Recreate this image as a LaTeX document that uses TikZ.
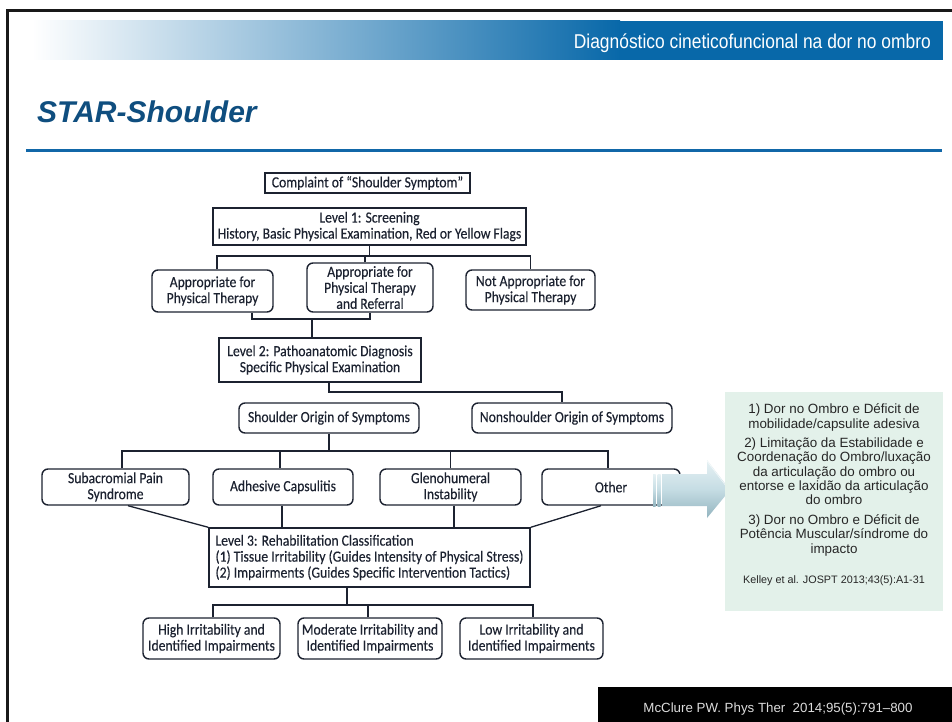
\documentclass[tikz,border=0pt]{standalone}
\usepackage{fontspec}
\setmainfont{Carlito}[FakeStretch=0.88, FakeBold=0.25]
\newfontfamily\arialfont{Liberation Sans}
\newfontfamily\narrowfont[FakeStretch=0.87]{Liberation Sans}
\definecolor{bandblue}{HTML}{0868A9}
\definecolor{titleblue}{HTML}{0F4E7F}
\definecolor{rulecol}{HTML}{1167A8}
\definecolor{ink}{HTML}{1C2230}
\definecolor{mint}{HTML}{E3F1EA}
\definecolor{arrowlight}{HTML}{E6F1F4}
\definecolor{arrowmid}{HTML}{C6DDE4}
\definecolor{arrowdark}{HTML}{93B4BF}
\definecolor{reftext}{HTML}{DCDCDC}
\tikzset{
  sqbox/.style={draw=ink, line width=1.4pt, fill=white, inner sep=2pt, align=center,
    text=ink, font=\fontsize{15.5}{16}\selectfont},
  rdbox/.style={sqbox, rounded corners=6pt},
  link/.style={draw=ink, line width=1.3pt},
  greenline/.style={anchor=base, inner sep=0pt, text=black!85, font=\arialfont\fontsize{13.4}{14.5}\selectfont},
}
\begin{document}
\begin{tikzpicture}[x=1pt,y=-1pt]
\useasboundingbox (0,0) rectangle (952,722);
\fill[white] (0,0) rectangle (952,722);

% slide frame
\draw[line width=2.5pt, black!90] (7.5,722) -- (7.5,10.5) -- (952,10.5);

% header band: solid blue with a fade-in on its left part
\fill[bandblue] (32,21) rectangle (943,60);
\shade[left color=white, right color=bandblue] (32,21) rectangle (620,60);
\node[anchor=base east, text=white, inner sep=0pt,
      font=\narrowfont\fontsize{20}{24}\selectfont] (hdr) at (931,49)
      {Diagnóstico cineticofuncional na dor no ombro};

% title and rule
\node[anchor=base west, text=titleblue, inner sep=0pt,
      font=\arialfont\bfseries\itshape\fontsize{30}{36}\selectfont] (ttl) at (37,123)
      {STAR-Shoulder};
\fill[rulecol] (26,149) rectangle (942,152);

% flow chart nodes
\node[sqbox, minimum width=205pt, minimum height=20pt] (cmp) at (367.5,183)
  {Complaint of “Shoulder Symptom”};
\node[sqbox, minimum width=313pt, minimum height=37pt] (l1) at (369.5,226.5)
  {Level 1: Screening\\History, Basic Physical Examination, Red or Yellow Flags};
\node[rdbox, minimum width=121pt, minimum height=42pt] (apt) at (212.5,291)
  {Appropriate for\\Physical Therapy};
\node[rdbox, minimum width=126pt, minimum height=49pt] (aptref) at (370,287.5)
  {Appropriate for\\Physical Therapy\\and Referral};
\node[rdbox, minimum width=129pt, minimum height=40pt] (notapt) at (530.5,290)
  {Not Appropriate for\\Physical Therapy};
\node[sqbox, minimum width=202pt, minimum height=44pt] (l2) at (320,360)
  {Level 2: Pathoanatomic Diagnosis\\Specific Physical Examination};
\node[rdbox, minimum width=180pt, minimum height=30pt] (sho) at (329,418)
  {Shoulder Origin of Symptoms};
\node[rdbox, minimum width=200pt, minimum height=30pt] (nonsho) at (572,418)
  {Nonshoulder Origin of Symptoms};
\node[rdbox, minimum width=147pt, minimum height=36pt] (sub) at (115.5,487)
  {Subacromial Pain\\Syndrome};
\node[rdbox, minimum width=140pt, minimum height=36pt] (adh) at (283,487)
  {Adhesive Capsulitis};
\node[rdbox, minimum width=141pt, minimum height=36pt] (gle) at (450.5,487)
  {Glenohumeral\\Instability};
\node[rdbox, minimum width=138pt, minimum height=36pt] (oth) at (611,487)
  {Other};
\node[sqbox, align=left, inner sep=4pt, minimum width=321pt, minimum height=59pt] (l3) at (369.5,557.5)
  {Level 3: Rehabilitation Classification\\
   (1) Tissue Irritability (Guides Intensity of Physical Stress)\\
   (2) Impairments (Guides Specific Intervention Tactics)};
\node[rdbox, minimum width=137pt, minimum height=41pt] (hi) at (211.5,638.5)
  {High Irritability and\\Identified Impairments};
\node[rdbox, minimum width=144pt, minimum height=41pt] (mo) at (370,638.5)
  {Moderate Irritability and\\Identified Impairments};
\node[rdbox, minimum width=143pt, minimum height=41pt] (lo) at (531.5,638.5)
  {Low Irritability and\\Identified Impairments};

% bus levels
\coordinate (busA) at (0,256);
\coordinate (busB) at (0,319);
\coordinate (busC) at (0,392);
\coordinate (busD) at (0,451);
\coordinate (busE) at (0,605);

% connectors
\draw[link] (l1.south) -- (l1.south |- busA);
\draw[link] ([xshift=4.5pt]apt.north) |- (notapt.north |- busA) -- (notapt.north);
\draw[link] ([xshift=-5pt]aptref.north) -- ([xshift=-5pt]aptref.north |- busA);

\draw[link] ([xshift=39.5pt]apt.south) |- (aptref.south |- busB) -- (aptref.south);
\draw[link] ([xshift=-8pt]l2.north) -- ([xshift=-8pt]l2.north |- busB);

\draw[link] (l2.south -| sho.north) |- ([xshift=-10pt]nonsho.north |- busC) -- ([xshift=-10pt]nonsho.north);

\draw[link] (sho.south) -- (sho.south |- busD);
\draw[link] ([xshift=6.5pt]sub.north) |- ([xshift=-3pt]oth.north |- busD) -- ([xshift=-3pt]oth.north);
\draw[link] ([xshift=-3pt]adh.north) -- ([xshift=-3pt]adh.north |- busD);
\draw[link] (gle.north) -- (gle.north |- busD);

\draw[link] ([xshift=12.5pt]sub.south) -- (l3.north west);
\draw[link] ([xshift=-1pt]adh.south) -- ([xshift=-1pt]adh.south |- l3.north);
\draw[link] ([xshift=3.5pt]gle.south) -- ([xshift=3.5pt]gle.south |- l3.north);
\draw[link] ([xshift=-10pt]oth.south) -- (l3.north east);

\draw[link] ([xshift=-22.5pt]l3.south) -- ([xshift=-22.5pt]l3.south |- busE);
\draw[link] ([xshift=1.5pt]hi.north) |- ([xshift=1.5pt]lo.north |- busE) -- ([xshift=1.5pt]lo.north);
\draw[link] ([xshift=-2pt]mo.north) -- ([xshift=-2pt]mo.north |- busE);

% striped block arrow
\shade[top color=arrowlight, bottom color=arrowdark, middle color=arrowmid]
  (662,474) -- (707,474) -- (707,460) -- (730,490) -- (707,518) -- (707,506) -- (662,506) -- cycle;
\shade[top color=arrowlight, bottom color=arrowdark, middle color=arrowmid]
  (653,474) rectangle (655.5,506);
\shade[top color=arrowlight, bottom color=arrowdark, middle color=arrowmid]
  (657.5,474) rectangle (660.5,506);
\draw[white, line width=0.6pt, opacity=0.7] (707,461) -- (729,490);

% summary panel
\fill[mint] (725,392) rectangle (943,611);
\node[greenline] (g1) at (834,413) {1) Dor no Ombro e Déficit de};
\node[greenline] (g2) at (834,428) {mobilidade/capsulite adesiva};
\node[greenline] (g3) at (834,447) {2) Limitação da Estabilidade e};
\node[greenline] (g4) at (834,461) {Coordenação do Ombro/luxação};
\node[greenline] (g5) at (834,476) {da articulação do ombro ou};
\node[greenline] (g6) at (834,490) {entorse e laxidão da articulação};
\node[greenline] (g7) at (834,504) {do ombro};
\node[greenline] (g8) at (834,524) {3) Dor no Ombro e Déficit de};
\node[greenline] (g9) at (834,538) {Potência Muscular/síndrome do};
\node[greenline] (g10) at (834,553) {impacto};
\node[greenline, font=\arialfont\fontsize{10.8}{13}\selectfont] (kel) at (834,583)
  {Kelley et al. JOSPT 2013;43(5):A1-31};

% reference strip
\fill[black] (598,687) rectangle (952,722);
\node[anchor=base, inner sep=0pt, text=reftext, font=\arialfont\fontsize{13.3}{15}\selectfont] (ref) at (778,712)
  {McClure PW. Phys Ther\ \ 2014;95(5):791–800};
\end{tikzpicture}
\end{document}
